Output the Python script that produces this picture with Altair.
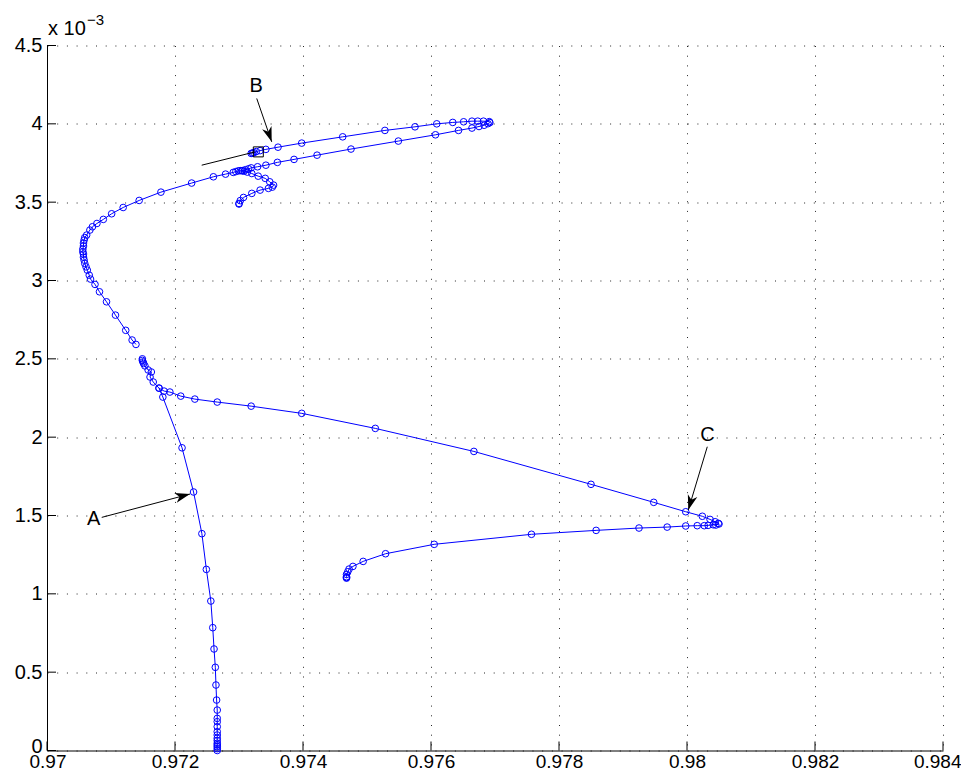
import math
import altair as alt
import pandas as pd

# ---------------- data (x, y in units of 1e-3) ----------------
seg1_x = [0.97266] * 13 + [0.97265, 0.97264, 0.97263, 0.97261, 0.97259, 0.97256, 0.97249,
                           0.97242, 0.97229, 0.97211, 0.97181, 0.97175, 0.97166, 0.97161,
                           0.97163, 0.97158, 0.97153, 0.97151, 0.97150, 0.97149, 0.97149]
seg1_y = [0, 0.012, 0.024, 0.035, 0.046, 0.063, 0.078, 0.099, 0.12, 0.152, 0.184, 0.205, 0.258,
          0.322, 0.418, 0.531, 0.648, 0.784, 0.954, 1.156, 1.384, 1.650, 1.932, 2.256, 2.313,
          2.352, 2.384, 2.416, 2.429, 2.455, 2.47, 2.48, 2.49, 2.50]

seg2_x = [0.97175, 0.97183, 0.97192, 0.97209, 0.97231, 0.97266, 0.97319, 0.97398, 0.97513,
          0.97667, 0.97850, 0.97948, 0.97998, 0.98024, 0.98036, 0.98044, 0.98049, 0.98050,
          0.98045, 0.98041, 0.98033, 0.98027, 0.98016, 0.97998, 0.97969, 0.97925, 0.97858,
          0.97757, 0.97605, 0.97529, 0.97494, 0.97478, 0.97472, 0.97470, 0.97468, 0.97468,
          0.97468, 0.97468]
seg2_y = [2.313, 2.294, 2.288, 2.262, 2.243, 2.224, 2.198, 2.152, 2.056, 1.909, 1.699, 1.584,
          1.524, 1.495, 1.475, 1.460, 1.450, 1.446, 1.439, 1.441, 1.437, 1.435, 1.435, 1.433,
          1.426, 1.420, 1.405, 1.380, 1.316, 1.256, 1.207, 1.175, 1.158, 1.141, 1.124, 1.109,
          1.104, 1.100]

seg3_x = [0.97139, 0.97133, 0.97123, 0.97107, 0.97093, 0.97082, 0.97075, 0.97068, 0.97066,
          0.97063, 0.97061, 0.97059, 0.97058, 0.97057, 0.97057, 0.97056, 0.97056, 0.97057,
          0.97057, 0.97058, 0.97059, 0.97062, 0.97067, 0.97071, 0.97078, 0.97088, 0.97101,
          0.97119, 0.97144, 0.97178, 0.97226, 0.97260, 0.97279, 0.97291, 0.97295, 0.97299,
          0.97302, 0.97305, 0.97308, 0.97313, 0.97320, 0.97330, 0.97341, 0.97348, 0.97354,
          0.97352, 0.97346, 0.97333, 0.97320, 0.97307, 0.97302, 0.97300, 0.97300]
seg3_y = [2.592, 2.620, 2.682, 2.779, 2.864, 2.928, 2.975, 3.009, 3.034, 3.066, 3.087, 3.109,
          3.130, 3.149, 3.169, 3.183, 3.200, 3.220, 3.239, 3.258, 3.274, 3.290, 3.322, 3.343,
          3.364, 3.390, 3.426, 3.466, 3.511, 3.564, 3.622, 3.662, 3.679, 3.690, 3.695, 3.700,
          3.701, 3.701, 3.698, 3.692, 3.683, 3.666, 3.652, 3.630, 3.609, 3.596, 3.588, 3.577,
          3.556, 3.530, 3.510, 3.492, 3.488]

seg4_x = [0.97305, 0.97310, 0.97315, 0.97319, 0.97329, 0.97342, 0.97360, 0.97386, 0.97422,
          0.97475, 0.97549, 0.97607, 0.97643, 0.97664, 0.97675, 0.97683, 0.97689, 0.97692,
          0.97691, 0.97682, 0.97673, 0.97664, 0.97651, 0.97634, 0.97609, 0.97575, 0.97528,
          0.97462, 0.97398, 0.97361, 0.97342, 0.97333, 0.97327, 0.97323, 0.97321, 0.97319]
seg4_y = [3.701, 3.707, 3.713, 3.719, 3.726, 3.736, 3.754, 3.773, 3.800, 3.839, 3.890, 3.930,
          3.958, 3.973, 3.983, 3.991, 4.001, 4.008, 4.014, 4.017, 4.017, 4.017, 4.013, 4.009,
          4.000, 3.981, 3.958, 3.917, 3.877, 3.851, 3.837, 3.829, 3.823, 3.816, 3.813, 3.811]

# annotations
label_text = ["A", "B", "C"]
label_x = [0.97073, 0.97327, 0.98032]
label_y = [1.478, 4.242, 2.015]
arrow_x0 = [0.970855, 0.973277, 0.980317]
arrow_y0 = [1.488, 4.162, 1.939]
arrow_x1 = [0.972234, 0.973511, 0.980020]
arrow_y1 = [1.637, 3.885, 1.535]
plain_line_x = [0.972417, 0.973250]
plain_line_y = [3.736, 3.821]
marker_x = [0.973302]
marker_y = [3.821]

x_ticks = [0.970, 0.972, 0.974, 0.976, 0.978, 0.980, 0.982, 0.984]
y_ticks = [0, 0.5, 1, 1.5, 2, 2.5, 3, 3.5, 4, 4.5]

# ---------------- build ----------------
W, H = 896, 705
XD = [0.970, 0.984]
YD = [0, 4.5]
FONT = "Liberation Sans"
BLUE = "#0000ff"

rows = []
for sid, (xs_, ys_) in enumerate([(seg1_x, seg1_y), (seg2_x, seg2_y),
                                  (seg3_x, seg3_y), (seg4_x, seg4_y)]):
    for i, (a, b) in enumerate(zip(xs_, ys_)):
        rows.append({"x": a, "y": b, "seg": sid, "ord": i})
df = pd.DataFrame(rows)

xs = alt.Scale(domain=XD, nice=False, zero=False)
ys = alt.Scale(domain=YD, nice=False, zero=False)

x_axis = alt.Axis(values=x_ticks, format=".3~f", labelFont=FONT, labelFontSize=19,
                  labelColor="black", labelPadding=2, ticks=False, tickSize=0,
                  domainColor="black", domainWidth=1, grid=True, gridColor="black",
                  gridDash=[1, 8.7], gridWidth=1, gridOpacity=0.85, labelFlush=True,
                  labelFlushOffset=18, labelOverlap=False, title=None)
y_axis = alt.Axis(values=y_ticks, format=".1~f", labelFont=FONT, labelFontSize=20,
                  labelColor="black", labelPadding=5, ticks=False, tickSize=0,
                  domainColor="black", domainWidth=1, grid=True, gridColor="black",
                  gridDash=[1, 8.7], gridWidth=1, gridOpacity=0.85, labelFlush=False,
                  labelOffset={"condition": {"test": "datum.value == 0", "value": -4},
                               "value": 0},
                  labelOverlap=False, title=None)


def X(f):
    return alt.X(f, scale=xs, axis=x_axis)


def Y(f):
    return alt.Y(f, scale=ys, axis=y_axis)


base = alt.Chart(df)
lines = base.mark_line(color=BLUE, strokeWidth=1).encode(
    x=X("x:Q"), y=Y("y:Q"), detail="seg:N", order="ord:Q")
points = base.mark_point(shape="circle", filled=False, color=BLUE, size=44,
                         strokeWidth=1, opacity=1).encode(x=X("x:Q"), y=Y("y:Q"))

# inward ticks
xt = alt.Chart(pd.DataFrame({"x": x_ticks})).mark_rule(color="black", strokeWidth=1).encode(
    x=X("x:Q"), y=alt.value(H), y2=alt.value(H - 9))
yt = alt.Chart(pd.DataFrame({"y": y_ticks})).mark_rule(color="black", strokeWidth=1).encode(
    y=Y("y:Q"), x=alt.value(0), x2=alt.value(9))


# annotation arrows (angle computed from the scales' pixel extent)
def px(xv):
    return (xv - XD[0]) / (XD[1] - XD[0]) * W


def py(yv):
    return H - (yv - YD[0]) / (YD[1] - YD[0]) * H


angles = []
for a0, b0, a1, b1 in zip(arrow_x0, arrow_y0, arrow_x1, arrow_y1):
    dx = px(a1) - px(a0)
    dy = py(b1) - py(b0)
    angles.append(math.degrees(math.atan2(dx, -dy)) % 360)

adf = pd.DataFrame({"x0": arrow_x0, "y0": arrow_y0, "x1": arrow_x1, "y1": arrow_y1,
                    "ang": angles})
shafts = alt.Chart(adf).mark_rule(color="black", strokeWidth=1).encode(
    x=X("x0:Q"), y=Y("y0:Q"), x2="x1:Q", y2="y1:Q")
heads = alt.Chart(adf).mark_point(
    shape="M0,0 L0.33,1 L0,0.72 L-0.33,1 Z", filled=True, color="black",
    size=900, opacity=1, strokeWidth=0).encode(
    x=X("x1:Q"), y=Y("y1:Q"), angle=alt.Angle("ang:Q", scale=None))

pl = pd.DataFrame({"x0": [plain_line_x[0]], "y0": [plain_line_y[0]],
                   "x1": [plain_line_x[1]], "y1": [plain_line_y[1]]})
plain = alt.Chart(pl).mark_rule(color="black", strokeWidth=1).encode(
    x=X("x0:Q"), y=Y("y0:Q"), x2="x1:Q", y2="y1:Q")

sq = alt.Chart(pd.DataFrame({"x": marker_x, "y": marker_y})).mark_point(
    shape="square", filled=False, color="black", size=100, strokeWidth=1, opacity=1).encode(
    x=X("x:Q"), y=Y("y:Q"))

labels = alt.Chart(pd.DataFrame({"x": label_x, "y": label_y, "t": label_text})).mark_text(
    font=FONT, fontSize=20, color="black", align="center", baseline="middle").encode(
    x=X("x:Q"), y=Y("y:Q"), text="t:N")

exp1 = alt.Chart(pd.DataFrame({"t": ["x 10"]})).mark_text(
    font=FONT, fontSize=20, color="black", align="left", baseline="alphabetic").encode(
    x=alt.value(1), y=alt.value(-10.5), text="t:N")
exp2 = alt.Chart(pd.DataFrame({"t": ["\u22123"]})).mark_text(
    font=FONT, fontSize=15, color="black", align="left", baseline="alphabetic").encode(
    x=alt.value(40), y=alt.value(-21), text="t:N")

chart = alt.layer(lines, points, xt, yt, shafts, heads, plain, sq, labels, exp1, exp2).properties(
    width=W, height=H,
    padding={"left": 39, "top": 37.5, "right": 18, "bottom": 21.5},
    autosize=alt.AutoSizeParams(type="none"),
    background="white",
).configure_view(stroke=None)

chart.save("out.html", embed_options={"renderer": "svg", "actions": False})
